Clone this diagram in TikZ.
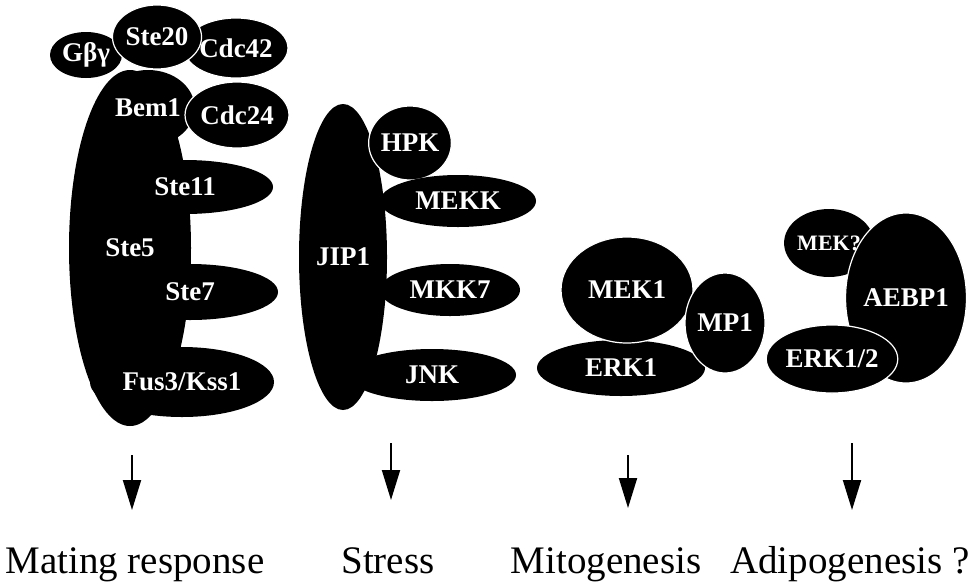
\documentclass[tikz,border=0pt]{standalone}
\usepackage{fontspec}
\setmainfont{Liberation Serif}
\usetikzlibrary{shapes.geometric, arrows.meta}

\tikzset{
  prot/.style={ellipse, fill=black, text=white, inner sep=0pt,
    font=\fontsize{13.5}{14}\selectfont\bfseries},
  rim/.style={draw=white, line width=0.6pt},
  small/.style={font=\fontsize{11}{12}\selectfont\bfseries},
  outcome/.style={anchor=base, inner sep=0pt, font=\fontsize{19.5}{22}\selectfont},
  leadsto/.style={-{Triangle[width=9pt,length=15pt]}, line width=1pt}
}

\begin{document}
\begin{tikzpicture}[x=0.5pt,y=-0.5pt]
\useasboundingbox (0,0) rectangle (972,584);

% Yeast module
\node[prot, minimum width=61pt, minimum height=178pt] (Ste5) at (130,248) {Ste5};
\node[prot, minimum width=36pt, minimum height=23pt] (Gbg) at (86,55) {Gβγ};
\node[prot, minimum width=45pt, minimum height=38pt] (Bem1) at (148,108) {Bem1};
\node[prot, rim, minimum width=42pt, minimum height=30pt] (Cdc42) at (236,48) {Cdc42};
\node[prot, rim, minimum width=37pt, minimum height=32pt] (Ste20) at (157,37) {Ste20};
\node[prot, rim, minimum width=42pt, minimum height=33pt] (Cdc24) at (237,115) {Cdc24};
\node[prot, minimum width=88pt, minimum height=27pt] (Ste11) at (185,187) {Ste11};
\node[prot, minimum width=88pt, minimum height=28pt] (Ste7) at (190,292) {Ste7};
\node[prot, minimum width=92pt, minimum height=35pt] (Fus3) at (182,382) {Fus3/Kss1};

% JNK module
\node[prot, minimum width=44pt, minimum height=153pt] (JIP1) at (343,257) {JIP1};
\node[prot, rim, minimum width=36pt, minimum height=37pt] (HPK) at (410,143) {HPK};
\node[prot, minimum width=78pt, minimum height=26pt] (MEKK) at (458,201) {MEKK};
\node[prot, minimum width=70pt, minimum height=26pt] (MKK7) at (450,290) {MKK7};
\node[prot, minimum width=84pt, minimum height=26pt] (JNK) at (432,375) {JNK};

% ERK module
\node[prot, minimum width=84pt, minimum height=28pt] (ERK1) at (621,368) {ERK1};
\node[prot, rim, minimum width=66pt, minimum height=53pt] (MEK1) at (627,290) {MEK1};
\node[prot, rim, minimum width=40pt, minimum height=50pt] (MP1) at (725,323) {MP1};

% AEBP1 module
\node[prot, small, minimum width=38pt, minimum height=34pt] (MEKq) at (829,243) {MEK?};
\node[prot, rim, minimum width=51pt, minimum height=85pt] (AEBP1) at (906,298) {AEBP1};
\node[prot, rim, minimum width=49pt, minimum height=34pt] (ERK12) at (832,359) {ERK1/2};

% Outcomes
\node[outcome] (mating) at (135,573) {Mating response};
\node[outcome] (stress) at (388,573) {Stress};
\node[outcome] (mito) at (606,573) {Mitogenesis};
\node[outcome] (adipo) at (850,573) {Adipogenesis ?};

\coordinate (m1) at (132,455); \coordinate (m2) at (132,510);
\coordinate (s1) at (391,443); \coordinate (s2) at (391,500);
\coordinate (g1) at (628,455); \coordinate (g2) at (628,508);
\coordinate (a1) at (852,443); \coordinate (a2) at (852,510);
\draw[leadsto] (m1) -- (m2);
\draw[leadsto] (s1) -- (s2);
\draw[leadsto] (g1) -- (g2);
\draw[leadsto] (a1) -- (a2);

\end{tikzpicture}
\end{document}
